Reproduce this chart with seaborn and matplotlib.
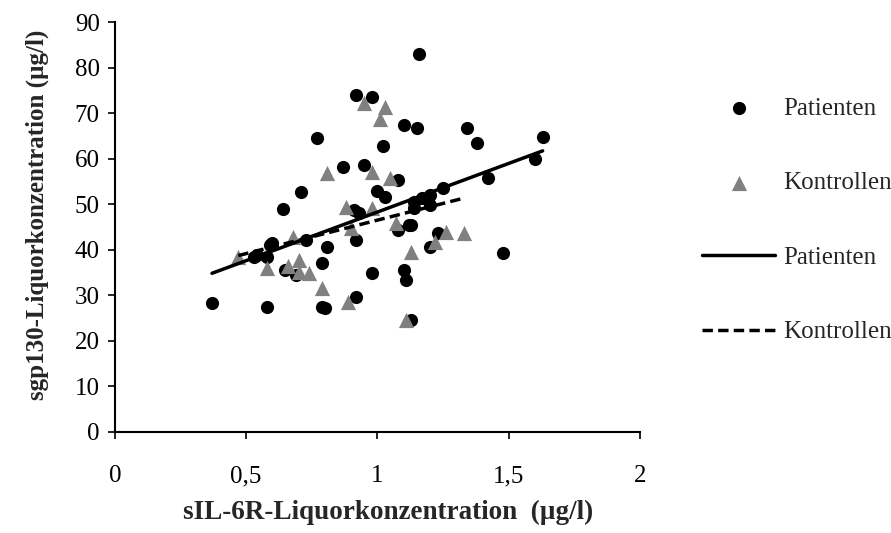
import numpy as np
import pandas as pd
import matplotlib
matplotlib.use("Agg")
import matplotlib.pyplot as plt
import seaborn as sns
from matplotlib.ticker import FuncFormatter

# Patienten (black circles)
pat_x = [0.37, 0.58, 0.79, 0.80, 0.92, 0.81, 0.79, 0.69, 0.65, 0.59, 0.98, 1.10, 1.11,
         0.58, 0.53, 0.92, 0.98, 1.10, 0.77, 1.02, 0.87, 0.95, 1.08, 1.00, 1.03, 0.71,
         0.64, 0.91, 0.93, 1.12, 1.08, 0.92, 0.73, 0.60, 0.54, 1.16, 1.15, 1.34, 1.38,
         1.63, 1.60, 1.42, 1.25, 1.20, 1.17, 1.14, 1.20, 1.14, 1.13, 1.23, 1.20, 1.48,
         1.13]
pat_y = [28.3, 27.4, 27.4, 27.2, 29.6, 40.6, 37.0, 34.4, 35.6, 41.0, 35.0, 35.5, 33.3,
         38.4, 38.4, 74.0, 73.5, 67.4, 64.5, 62.8, 58.2, 58.6, 55.3, 53.0, 51.5, 52.7,
         49.0, 48.7, 48.0, 45.4, 44.3, 42.1, 42.1, 41.5, 38.8, 82.9, 66.7, 66.7, 63.4,
         64.7, 59.9, 55.7, 53.6, 52.0, 51.4, 50.5, 49.8, 49.1, 45.4, 43.6, 40.6, 39.3,
         24.6]

# Kontrollen (grey triangles)
kon_x = [0.95, 1.03, 1.01, 0.81, 0.98, 1.05, 0.88, 0.98, 1.07, 0.90, 0.68, 0.47,
         0.58, 0.66, 0.70, 0.70, 0.74, 0.79, 0.89, 1.11, 1.26, 1.33, 1.22, 1.13]
kon_y = [72.2, 71.3, 68.7, 56.8, 57.0, 55.7, 49.4, 49.1, 45.8, 44.7, 42.8, 38.5,
         36.0, 36.4, 37.7, 35.1, 34.9, 31.6, 28.5, 24.6, 43.9, 43.6, 41.7, 39.5]

x_ticks = [0, 0.5, 1, 1.5, 2]
y_ticks = list(range(0, 100, 10))

sns.set_style("white")
plt.rcParams['font.family'] = ['Liberation Serif', 'DejaVu Serif']

pat = pd.DataFrame({"x": pat_x, "y": pat_y})
kon = pd.DataFrame({"x": kon_x, "y": kon_y})

fig = plt.figure(figsize=(8.91, 5.33), dpi=100)
ax = fig.add_axes([0.129, 0.1895, 0.589, 0.7692])

sns.scatterplot(data=pat, x="x", y="y", ax=ax, marker="o", color="black", s=90,
                edgecolor="black", linewidth=0, label="Patienten", zorder=3)
sns.scatterplot(data=kon, x="x", y="y", ax=ax, marker="^", color="#808080", s=120,
                edgecolor="#808080", linewidth=0, label="Kontrollen", zorder=4)
sns.regplot(data=pat, x="x", y="y", ax=ax, scatter=False, ci=None,
            line_kws=dict(color="black", lw=2.5, zorder=5), label="Patienten")
sns.regplot(data=kon, x="x", y="y", ax=ax, scatter=False, ci=None,
            line_kws=dict(color="black", lw=2.5, ls=(0, (3, 1.5)), zorder=5),
            label="Kontrollen")

ax.set_xlim(0, 2)
ax.set_ylim(0, 90)
ax.set_xticks(x_ticks)
ax.set_yticks(y_ticks)
ax.xaxis.set_major_formatter(FuncFormatter(lambda v, p: ("%g" % v).replace(".", ",")))
for s in ["top", "right"]:
    ax.spines[s].set_visible(False)
for s in ["left", "bottom"]:
    ax.spines[s].set_color("black")
    ax.spines[s].set_linewidth(1.5)
ax.tick_params(axis="both", direction="out", length=5, width=1.2, labelsize=18,
               left=True, bottom=True, colors="black")
ax.tick_params(axis="x", pad=19)
ax.tick_params(axis="y", pad=6)
ax.set_xlabel("sIL-6R-Liquorkonzentration  (µg/l)", fontsize=19.5, fontweight="bold")
ax.set_ylabel("sgp130-Liquorkonzentration (µg/l)", fontsize=18, fontweight="bold")
ax.xaxis.set_label_coords(0.52, -0.165)
ax.yaxis.set_label_coords(-0.125, 0.53)

handles, labels = ax.get_legend_handles_labels()
if ax.get_legend() is not None:
    ax.get_legend().remove()
leg = fig.legend(handles, labels, loc="upper left", bbox_to_anchor=(0.777, 0.836),
                 frameon=False, fontsize=18, labelspacing=2.08, handlelength=2.9,
                 handletextpad=0.32, borderaxespad=0)

fig.savefig("out.png", dpi=100)
